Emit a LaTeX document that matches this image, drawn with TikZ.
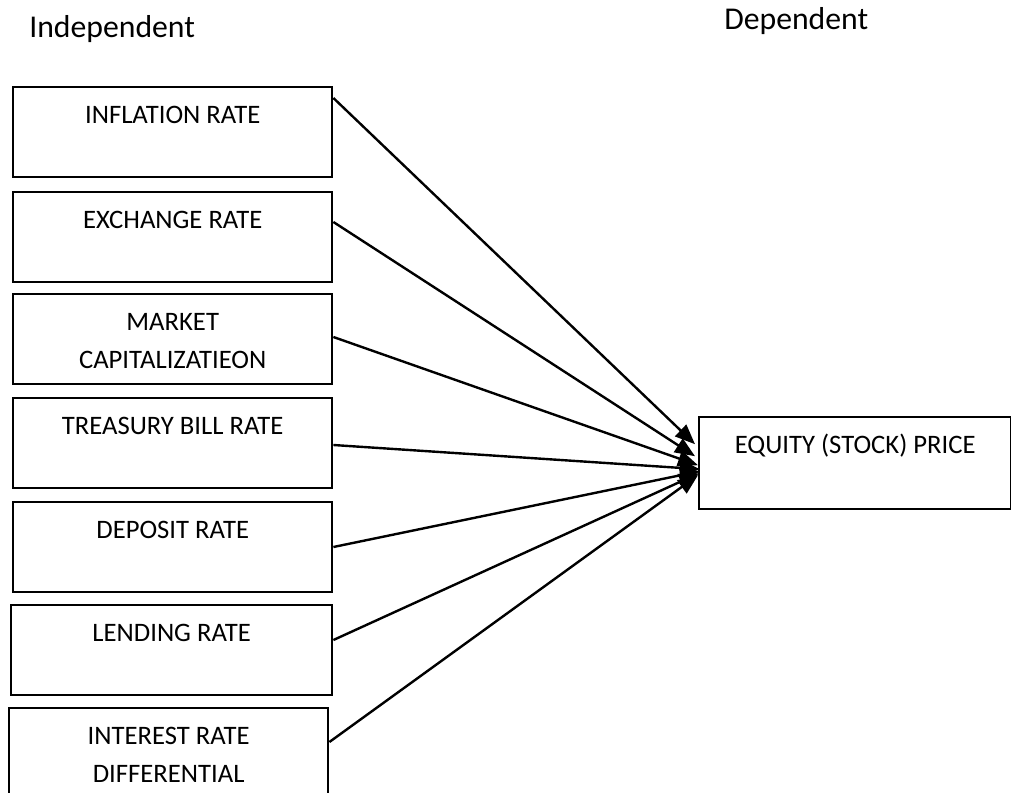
\documentclass[tikz,border=0pt]{standalone}
\usepackage{fontspec}
\setmainfont{Carlito}
\usetikzlibrary{arrows.meta,calc}

\begin{document}
\begin{tikzpicture}[x=0.75pt,y=-0.75pt,
    varbox/.style={draw, line width=1.8pt, anchor=north west, inner sep=0pt,
      align=center, minimum width=#1,
      text height=27pt, text depth=40.5pt,
      font=\fontsize{20}{28.5}\selectfont},
    twolines/.style={text height=55.5pt, text depth=12pt},
    head/.style={anchor=base west, inner sep=0pt, font=\fontsize{23.8}{28}\selectfont},
    link/.style={line width=1.8pt, -{Triangle[length=15pt,width=12pt]}}]
  \clip (0,0) rectangle (1011,793);
  % headings
  \node[head] (indep) at (29,37) {Independent};
  \node[head] (dept)  at (724,29) {Dependent};
  % independent variables
  \node[varbox=239.25pt] (infl)  at (12,86)  {INFLATION RATE};
  \node[varbox=239.25pt] (exch)  at (12,191) {EXCHANGE RATE};
  \node[varbox=239.25pt, twolines] (mcap) at (12,293) {MARKET\\CAPITALIZATIEON};
  \node[varbox=239.25pt] (tbill) at (12,397) {TREASURY BILL RATE};
  \node[varbox=239.25pt] (depo)  at (12,501) {DEPOSIT RATE};
  \node[varbox=240.75pt] (lend)  at (10,604) {LENDING RATE};
  \node[varbox=239.25pt, twolines] (irdif) at (8,707) {INTEREST RATE\\DIFFERENTIAL};
  % dependent variable
  \node[varbox=234pt, text depth=42pt] (eq) at (698,416) {EQUITY (STOCK) PRICE};
  % arrow tips
  \coordinate (t1) at ($(eq.west)+(-3,-19)$);
  \coordinate (t2) at ($(eq.west)+(-3,-7)$);
  \coordinate (t3) at ($(eq.west)+(0,2)$);
  \coordinate (t4) at ($(eq.west)+(2,6)$);
  \coordinate (t5) at ($(eq.west)+(2,8)$);
  \coordinate (t6) at ($(eq.west)+(1,10)$);
  \coordinate (t7) at ($(eq.west)+(0,12)$);
  \draw[link] ($(infl.north east)+(0,12)$)  -- (t1);
  \draw[link] ($(exch.north east)+(0,31)$)  -- (t2);
  \draw[link] ($(mcap.north east)+(0,44)$)  -- (t3);
  \draw[link] ($(tbill.north east)+(0,48)$) -- (t4);
  \draw[link] ($(depo.north east)+(0,46)$)  -- (t5);
  \draw[link] ($(lend.north east)+(0,36)$)  -- (t6);
  \draw[link] ($(irdif.north east)+(0,35)$) -- (t7);
\end{tikzpicture}
\end{document}
